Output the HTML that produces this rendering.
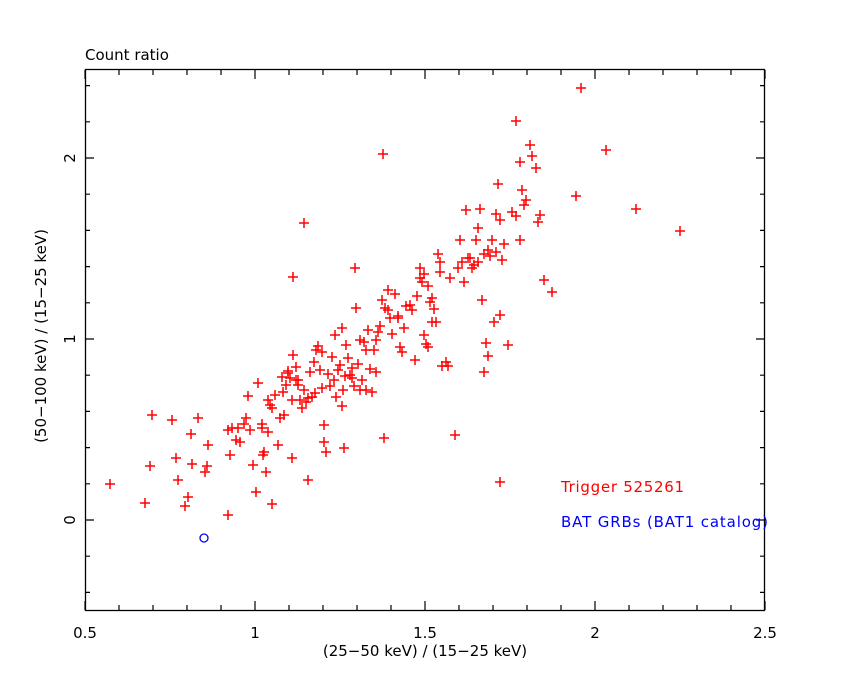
<!DOCTYPE html>
<html><head><meta charset="utf-8"><style>
html,body{margin:0;padding:0;background:#fff;}
svg{display:block;font-family:"DejaVu Sans","Liberation Sans",sans-serif;}
</style></head><body>
<svg width="850" height="680" viewBox="0 0 850 680" xmlns="http://www.w3.org/2000/svg">
<defs><path id="p" d="M-5 0h10M0 -5v10" stroke="#ff0000" stroke-width="1.5" fill="none"/></defs>
<rect width="850" height="680" fill="#fff"/>
<text x="85" y="60" font-size="15" fill="#000">Count ratio</text>
<rect x="85.5" y="69.5" width="679" height="541" fill="none" stroke="#000" stroke-width="1.3"/>
<path stroke="#000" stroke-width="1.2" fill="none" d="
M85 610v-9M119 610v-5M153 610v-5M187 610v-5M221 610v-5M255 610v-9M289 610v-5M323 610v-5M357 610v-5M391 610v-5M425 610v-9M459 610v-5M493 610v-5M527 610v-5M561 610v-5M595 610v-9M629 610v-5M663 610v-5M697 610v-5M731 610v-5M765 610v-9
M85 70v9M119 70v5M153 70v5M187 70v5M221 70v5M255 70v9M289 70v5M323 70v5M357 70v5M391 70v5M425 70v9M459 70v5M493 70v5M527 70v5M561 70v5M595 70v9M629 70v5M663 70v5M697 70v5M731 70v5M765 70v9
M85 592.4h5M85 556.2h5M85 520h9M85 483.8h5M85 447.6h5M85 411.4h5M85 375.2h5M85 339h9M85 302.8h5M85 266.6h5M85 230.4h5M85 194.2h5M85 158h9M85 121.8h5M85 85.6h5
M765 592.4h-5M765 556.2h-5M765 520h-9M765 483.8h-5M765 447.6h-5M765 411.4h-5M765 375.2h-5M765 339h-9M765 302.8h-5M765 266.6h-5M765 230.4h-5M765 194.2h-5M765 158h-9M765 121.8h-5M765 85.6h-5"/>
<g font-size="15" fill="#000" text-anchor="middle">
<text x="85" y="638">0.5</text><text x="255" y="638">1</text><text x="425" y="638">1.5</text><text x="595" y="638">2</text><text x="765" y="638">2.5</text>
<text x="425" y="656">(25−50 keV) / (15−25 keV)</text>
<text transform="translate(75,520) rotate(-90)">0</text>
<text transform="translate(75,339) rotate(-90)">1</text>
<text transform="translate(75,158) rotate(-90)">2</text>
<text transform="translate(46,336) rotate(-90)">(50−100 keV) / (15−25 keV)</text>
</g>
<text x="561" y="492" font-size="15" fill="#ff0000" textLength="123">Trigger 525261</text>
<text x="561" y="527" font-size="15" fill="#0000ff" textLength="207">BAT GRBs (BAT1 catalog)</text>
<circle cx="204" cy="538" r="4" fill="none" stroke="#0000ff" stroke-width="1.3"/>
<g>
<use href="#p" x="150" y="466"/><use href="#p" x="172" y="420"/><use href="#p" x="176" y="458"/><use href="#p" x="185" y="506"/><use href="#p" x="188" y="497"/><use href="#p" x="191" y="434"/><use href="#p" x="192" y="464"/><use href="#p" x="205" y="472"/><use href="#p" x="207" y="466"/>
<use href="#p" x="228" y="430"/><use href="#p" x="232" y="428"/><use href="#p" x="230" y="455"/><use href="#p" x="236" y="440"/><use href="#p" x="240" y="442"/><use href="#p" x="244" y="424"/><use href="#p" x="246" y="418"/><use href="#p" x="248" y="396"/><use href="#p" x="250" y="430"/><use href="#p" x="253" y="465"/><use href="#p" x="256" y="492"/><use href="#p" x="258" y="383"/><use href="#p" x="262" y="424"/><use href="#p" x="264" y="452"/><use href="#p" x="266" y="472"/><use href="#p" x="268" y="432"/><use href="#p" x="270" y="405"/><use href="#p" x="272" y="408"/><use href="#p" x="275" y="395"/><use href="#p" x="278" y="445"/><use href="#p" x="280" y="418"/><use href="#p" x="282" y="377"/><use href="#p" x="283" y="392"/><use href="#p" x="284" y="415"/><use href="#p" x="286" y="385"/><use href="#p" x="288" y="371"/><use href="#p" x="290" y="378"/><use href="#p" x="292" y="400"/><use href="#p" x="293" y="355"/><use href="#p" x="296" y="367"/><use href="#p" x="298" y="380"/><use href="#p" x="300" y="400"/><use href="#p" x="302" y="408"/><use href="#p" x="304" y="390"/><use href="#p" x="306" y="402"/><use href="#p" x="308" y="398"/><use href="#p" x="310" y="372"/><use href="#p" x="312" y="397"/><use href="#p" x="314" y="362"/><use href="#p" x="316" y="350"/><use href="#p" x="318" y="346"/><use href="#p" x="320" y="370"/><use href="#p" x="322" y="388"/><use href="#p" x="324" y="425"/><use href="#p" x="326" y="452"/><use href="#p" x="324" y="442"/><use href="#p" x="328" y="374"/><use href="#p" x="330" y="386"/><use href="#p" x="332" y="357"/><use href="#p" x="334" y="380"/><use href="#p" x="336" y="397"/><use href="#p" x="338" y="370"/><use href="#p" x="340" y="365"/><use href="#p" x="342" y="406"/><use href="#p" x="343" y="390"/>
<use href="#p" x="345" y="376"/><use href="#p" x="346" y="345"/><use href="#p" x="348" y="358"/><use href="#p" x="350" y="375"/><use href="#p" x="352" y="368"/><use href="#p" x="354" y="386"/><use href="#p" x="355" y="268"/><use href="#p" x="356" y="308"/><use href="#p" x="358" y="364"/><use href="#p" x="360" y="390"/><use href="#p" x="362" y="380"/><use href="#p" x="364" y="342"/><use href="#p" x="366" y="350"/><use href="#p" x="368" y="330"/><use href="#p" x="370" y="369"/><use href="#p" x="372" y="392"/><use href="#p" x="374" y="350"/><use href="#p" x="376" y="340"/><use href="#p" x="378" y="332"/><use href="#p" x="380" y="326"/><use href="#p" x="383" y="154"/><use href="#p" x="385" y="308"/><use href="#p" x="388" y="310"/><use href="#p" x="390" y="318"/><use href="#p" x="392" y="334"/><use href="#p" x="395" y="294"/><use href="#p" x="398" y="316"/><use href="#p" x="400" y="347"/><use href="#p" x="402" y="352"/><use href="#p" x="404" y="328"/><use href="#p" x="410" y="305"/><use href="#p" x="415" y="360"/><use href="#p" x="417" y="296"/><use href="#p" x="420" y="268"/><use href="#p" x="422" y="282"/><use href="#p" x="424" y="335"/><use href="#p" x="426" y="344"/><use href="#p" x="428" y="347"/><use href="#p" x="430" y="302"/><use href="#p" x="432" y="322"/><use href="#p" x="434" y="309"/><use href="#p" x="436" y="322"/><use href="#p" x="438" y="254"/><use href="#p" x="440" y="262"/><use href="#p" x="442" y="366"/><use href="#p" x="448" y="366"/><use href="#p" x="455" y="435"/><use href="#p" x="458" y="268"/><use href="#p" x="460" y="240"/><use href="#p" x="462" y="262"/><use href="#p" x="464" y="282"/><use href="#p" x="466" y="210"/><use href="#p" x="468" y="258"/><use href="#p" x="472" y="268"/><use href="#p" x="474" y="265"/><use href="#p" x="476" y="240"/><use href="#p" x="478" y="228"/><use href="#p" x="480" y="209"/><use href="#p" x="482" y="300"/><use href="#p" x="484" y="372"/><use href="#p" x="486" y="343"/><use href="#p" x="488" y="356"/><use href="#p" x="490" y="256"/><use href="#p" x="492" y="240"/><use href="#p" x="494" y="322"/><use href="#p" x="496" y="214"/><use href="#p" x="498" y="184"/><use href="#p" x="500" y="482"/><use href="#p" x="502" y="260"/><use href="#p" x="504" y="244"/><use href="#p" x="508" y="345"/><use href="#p" x="512" y="212"/><use href="#p" x="516" y="216"/><use href="#p" x="520" y="240"/><use href="#p" x="522" y="190"/><use href="#p" x="524" y="205"/><use href="#p" x="526" y="200"/><use href="#p" x="530" y="145"/><use href="#p" x="532" y="156"/><use href="#p" x="536" y="168"/><use href="#p" x="540" y="215"/><use href="#p" x="544" y="280"/><use href="#p" x="581" y="88"/><use href="#p" x="576" y="196"/><use href="#p" x="606" y="150"/><use href="#p" x="636" y="209"/><use href="#p" x="500" y="315"/>
<use href="#p" x="110" y="484"/><use href="#p" x="145" y="503"/><use href="#p" x="152" y="415"/><use href="#p" x="178" y="480"/><use href="#p" x="198" y="418"/><use href="#p" x="208" y="445"/><use href="#p" x="228" y="515"/><use href="#p" x="238" y="428"/><use href="#p" x="262" y="428"/><use href="#p" x="263" y="455"/><use href="#p" x="268" y="400"/><use href="#p" x="272" y="504"/><use href="#p" x="288" y="373"/><use href="#p" x="292" y="458"/><use href="#p" x="293" y="277"/><use href="#p" x="296" y="380"/><use href="#p" x="298" y="385"/><use href="#p" x="304" y="223"/><use href="#p" x="308" y="480"/><use href="#p" x="315" y="393"/><use href="#p" x="322" y="352"/><use href="#p" x="335" y="335"/><use href="#p" x="342" y="328"/><use href="#p" x="344" y="448"/><use href="#p" x="352" y="378"/><use href="#p" x="360" y="340"/><use href="#p" x="366" y="390"/><use href="#p" x="376" y="372"/><use href="#p" x="382" y="300"/><use href="#p" x="384" y="438"/><use href="#p" x="388" y="290"/><use href="#p" x="398" y="318"/><use href="#p" x="406" y="306"/><use href="#p" x="412" y="310"/><use href="#p" x="420" y="278"/><use href="#p" x="424" y="274"/><use href="#p" x="428" y="286"/><use href="#p" x="432" y="298"/><use href="#p" x="440" y="272"/><use href="#p" x="446" y="362"/><use href="#p" x="450" y="278"/><use href="#p" x="470" y="258"/><use href="#p" x="478" y="262"/><use href="#p" x="484" y="254"/><use href="#p" x="488" y="250"/><use href="#p" x="496" y="252"/><use href="#p" x="500" y="220"/><use href="#p" x="516" y="121"/><use href="#p" x="520" y="162"/><use href="#p" x="538" y="222"/><use href="#p" x="552" y="292"/><use href="#p" x="680" y="231"/>
</g>
</svg>
</body></html>
